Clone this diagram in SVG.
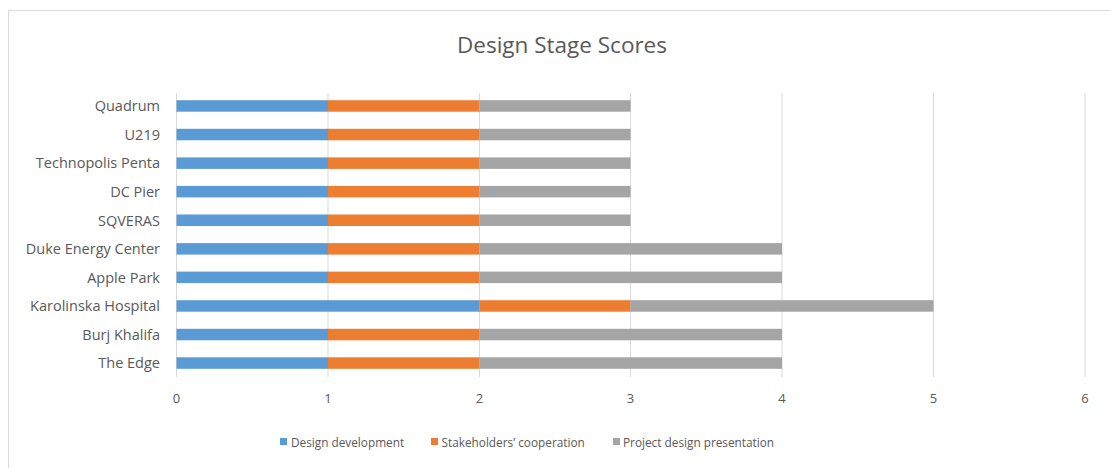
<svg xmlns="http://www.w3.org/2000/svg" width="1110" height="468" viewBox="0 0 1110 468">
<style>
text{font-family:"Open Sans","Liberation Sans",sans-serif;fill:#595959}
.cat{font-size:14.5px;text-anchor:end}
.tick{font-size:13px;text-anchor:middle}
.leg{font-size:11.8px}
.grid{stroke:#d9d9d9;stroke-width:1}
.b{fill:#5b9bd5}.o{fill:#ed7d31}.g{fill:#a5a5a5}
</style>
<rect width="1110" height="468" fill="#fff"/>
<path d="M8.5 468V10.5H1110" fill="none" stroke="#d9d9d9"/>
<text x="562" y="53" font-size="22.5" text-anchor="middle">Design Stage Scores</text>
<g id="gridlines">
<line class="grid" x1="176.5" y1="93" x2="176.5" y2="377"/>
<line class="grid" x1="328" y1="93" x2="328" y2="377"/>
<line class="grid" x1="479.5" y1="93" x2="479.5" y2="377"/>
<line class="grid" x1="630.5" y1="93" x2="630.5" y2="377"/>
<line class="grid" x1="782" y1="93" x2="782" y2="377"/>
<line class="grid" x1="933.5" y1="93" x2="933.5" y2="377"/>
<line class="grid" x1="1085" y1="93" x2="1085" y2="377"/>
</g>
<g id="axis-labels">
<text class="tick" x="176.5" y="403">0</text>
<text class="tick" x="328" y="403">1</text>
<text class="tick" x="479.5" y="403">2</text>
<text class="tick" x="630.5" y="403">3</text>
<text class="tick" x="782" y="403">4</text>
<text class="tick" x="933.5" y="403">5</text>
<text class="tick" x="1085" y="403">6</text>
</g>
<g id="quadrum"><text class="cat" x="160" y="111.3">Quadrum</text>
<rect class="b" x="176.5" y="100.2" width="151.5" height="11.5"/><rect class="o" x="328" y="100.2" width="151.5" height="11.5"/><rect class="g" x="479.5" y="100.2" width="151" height="11.5"/></g>
<g id="u219"><text class="cat" x="160" y="139.9">U219</text>
<rect class="b" x="176.5" y="128.8" width="151.5" height="11.5"/><rect class="o" x="328" y="128.8" width="151.5" height="11.5"/><rect class="g" x="479.5" y="128.8" width="151" height="11.5"/></g>
<g id="technopolis"><text class="cat" x="160" y="168.4">Technopolis Penta</text>
<rect class="b" x="176.5" y="157.4" width="151.5" height="11.5"/><rect class="o" x="328" y="157.4" width="151.5" height="11.5"/><rect class="g" x="479.5" y="157.4" width="151" height="11.5"/></g>
<g id="dcpier"><text class="cat" x="160" y="197">DC Pier</text>
<rect class="b" x="176.5" y="185.9" width="151.5" height="11.5"/><rect class="o" x="328" y="185.9" width="151.5" height="11.5"/><rect class="g" x="479.5" y="185.9" width="151" height="11.5"/></g>
<g id="sqveras"><text class="cat" x="160" y="225.5">SQVERAS</text>
<rect class="b" x="176.5" y="214.5" width="151.5" height="11.5"/><rect class="o" x="328" y="214.5" width="151.5" height="11.5"/><rect class="g" x="479.5" y="214.5" width="151" height="11.5"/></g>
<g id="duke"><text class="cat" x="160" y="254.1">Duke Energy Center</text>
<rect class="b" x="176.5" y="243.1" width="151.5" height="11.5"/><rect class="o" x="328" y="243.1" width="151.5" height="11.5"/><rect class="g" x="479.5" y="243.1" width="302.5" height="11.5"/></g>
<g id="applepark"><text class="cat" x="160" y="282.7">Apple Park</text>
<rect class="b" x="176.5" y="271.6" width="151.5" height="11.5"/><rect class="o" x="328" y="271.6" width="151.5" height="11.5"/><rect class="g" x="479.5" y="271.6" width="302.5" height="11.5"/></g>
<g id="karolinska"><text class="cat" x="160" y="311.2">Karolinska Hospital</text>
<rect class="b" x="176.5" y="300.2" width="303" height="11.5"/><rect class="o" x="479.5" y="300.2" width="151" height="11.5"/><rect class="g" x="630.5" y="300.2" width="303" height="11.5"/></g>
<g id="burj"><text class="cat" x="160" y="339.8">Burj Khalifa</text>
<rect class="b" x="176.5" y="328.8" width="151.5" height="11.5"/><rect class="o" x="328" y="328.8" width="151.5" height="11.5"/><rect class="g" x="479.5" y="328.8" width="302.5" height="11.5"/></g>
<g id="theedge"><text class="cat" x="160" y="368.3">The Edge</text>
<rect class="b" x="176.5" y="357.3" width="151.5" height="11.5"/><rect class="o" x="328" y="357.3" width="151.5" height="11.5"/><rect class="g" x="479.5" y="357.3" width="302.5" height="11.5"/></g>
<g id="legend">
<rect class="b" x="280" y="438" width="7" height="7"/><text class="leg" x="291" y="446.5">Design development</text>
<rect class="o" x="431" y="438" width="7" height="7"/><text class="leg" x="441.5" y="446.5">Stakeholders’ cooperation</text>
<rect class="g" x="613" y="438" width="7" height="7"/><text class="leg" x="623" y="446.5">Project design presentation</text>
</g>
</svg>
